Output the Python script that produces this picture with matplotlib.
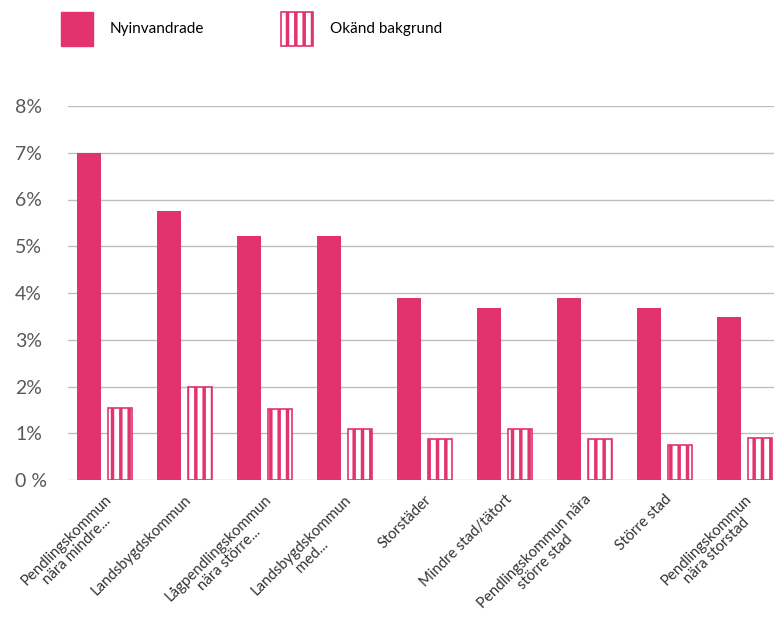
import matplotlib.pyplot as plt
import numpy as np
from matplotlib.patches import Patch

# data
categories = [
    "Pendlingskommun\nnära mindre...",
    "Landsbygdskommun",
    "Lågpendlingskommun\nnära större...",
    "Landsbygdskommun\nmed...",
    "Storstäder",
    "Mindre stad/tätort",
    "Pendlingskommun nära\nstörre stad",
    "Större stad",
    "Pendlingskommun\nnära storstad",
]
nyinvandrade = [7.0, 5.75, 5.22, 5.22, 3.9, 3.67, 3.9, 3.67, 3.48]
okand = [1.55, 2.0, 1.52, 1.1, 0.87, 1.1, 0.87, 0.75, 0.9]
y_ticks = [0, 1, 2, 3, 4, 5, 6, 7, 8]
y_labels = ["0 %", "1%", "2%", "3%", "4%", "5%", "6%", "7%", "8%"]

pink = "#E2336E"
grey_text = "#595959"
plt.rcParams["font.family"] = ["Lato", "DejaVu Sans"]
plt.rcParams["hatch.linewidth"] = 2.5

fig = plt.figure(figsize=(7.74, 6.19), dpi=100)
ax = fig.add_axes([68 / 774, 139 / 619, 706 / 774, 374 / 619])

x = np.arange(len(categories))
w = 0.3
off = 0.19
ax.bar(x - off, nyinvandrade, w, color=pink, zorder=3)
ax.bar(x + off, okand, w, facecolor="white", edgecolor=pink, hatch="||",
       linewidth=1.2, zorder=3)

ax.set_xlim(-0.456, 8.37)
ax.set_ylim(0, 8)
ax.set_yticks(y_ticks)
ax.set_yticklabels(y_labels, fontsize=14, color=grey_text)
ax.tick_params(axis="y", length=0, pad=38)
for lab in ax.get_yticklabels():
    lab.set_ha("left")
ax.yaxis.grid(True, color="#BFBFBF", linewidth=1, zorder=0)

ax.set_xticks(x)
ax.set_xticklabels(categories, rotation=45, ha="right", va="top",
                   rotation_mode="anchor", fontsize=10.8, color="#333333",
                   multialignment="center", linespacing=1.1)
ax.tick_params(axis="x", length=0, pad=9)

for s in ["top", "right", "left", "bottom"]:
    ax.spines[s].set_visible(False)

handles = [
    Patch(facecolor=pink, edgecolor=pink, label="Nyinvandrade"),
    Patch(facecolor="white", edgecolor=pink, hatch="||", linewidth=1.2,
          label="Okänd bakgrund"),
]
fig.legend(handles=handles, loc="center left", bbox_to_anchor=(61 / 774, 1 - 29 / 619),
           ncol=2, frameon=False, fontsize=11, handlelength=2.1, handleheight=3.0,
           handletextpad=1.1, columnspacing=5.0, borderpad=0, borderaxespad=0)

fig.savefig("out.png", dpi=100)
